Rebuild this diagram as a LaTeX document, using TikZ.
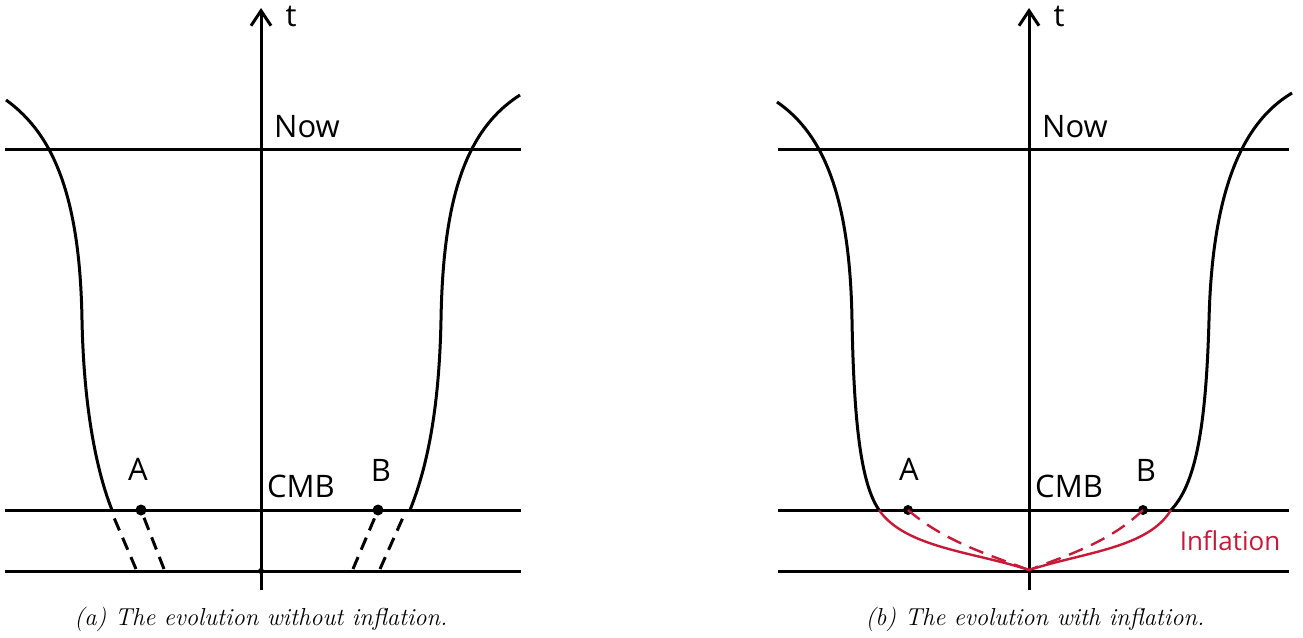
\documentclass[tikz,border=0pt]{standalone}
\usepackage{fontspec}
\newfontfamily\labfont{Open Sans}
\usetikzlibrary{arrows.meta}
\definecolor{infred}{RGB}{200,25,55}
\begin{document}
\begin{tikzpicture}[x=1pt,y=-1pt,
  ln/.style={line width=3pt},
  dsh/.style={line width=3pt, dash pattern=on 13pt off 8pt},
  rln/.style={line width=2.4pt, draw=infred},
  rdsh/.style={line width=2.4pt, draw=infred, dash pattern=on 15pt off 9pt},
  axarrow/.style={line width=3pt, -{Straight Barb[length=15pt,width=20pt,line width=3pt]}},
  lab/.style={font=\labfont\fontsize{31}{31}\selectfont, anchor=base, inner sep=0pt},
  capt/.style={font=\itshape\fontsize{24.5}{24.5}\selectfont, anchor=base, inner sep=0pt},
  dotA/.style={circle, fill=black, inner sep=0pt, minimum size=11pt},
  dotS/.style={circle, fill=black, inner sep=0pt, minimum size=6pt}]
\useasboundingbox (0,0) rectangle (1303,637);

%%%%% Panel (a)
\coordinate (aAxB) at (261,590);
\coordinate (aAxT) at (261,8);
\coordinate (aNowL) at (5,149);   \coordinate (aNowR) at (521,149);
\coordinate (aCmbL) at (5,510);   \coordinate (aCmbR) at (521,510);
\coordinate (aBotL) at (5,571);   \coordinate (aBotR) at (521,571);
\draw[ln] (aNowL) -- (aNowR);
\draw[ln] (aCmbL) -- (aCmbR);
\draw[ln] (aBotL) -- (aBotR);
\draw[axarrow] (aAxB) -- (aAxT);
\node[dotS] (aO) at (261,571) {};

\coordinate (aLt) at (6,100);  \coordinate (aLm) at (82,320);  \coordinate (aLb) at (112,510);
\coordinate (aRt) at (520,95); \coordinate (aRm) at (441,320); \coordinate (aRb) at (410,510);
\draw[ln] (aLt) .. controls (55,135) and (80,200) .. (aLm) .. controls (84,420) and (100,480) .. (aLb);
\draw[ln] (aRt) .. controls (465,130) and (443,200) .. (aRm) .. controls (439,420) and (424,475) .. (aRb);

\coordinate (aL1) at (112,513); \coordinate (aL1e) at (136,569);
\coordinate (aR1) at (405,513); \coordinate (aR1e) at (380,569);
\node[dotA] (A1) at (141,510) {};
\node[dotA] (B1) at (378,510) {};
\coordinate (aL2e) at (164,569);
\coordinate (aR2e) at (353,569);
\draw[dsh] (aL1e) -- (aL1);
\draw[dsh] (aL2e) -- (A1.center);
\draw[dsh] (aR1e) -- (aR1);
\draw[dsh] (aR2e) -- (B1.center);

\node[lab] (at) at (291,27) {t};
\node[lab] (anow) at (307,137) {Now};
\node[lab] (acmb) at (301,497) {CMB};
\node[lab] (aA) at (138,480) {A};
\node[lab] (aB) at (381,481) {B};
\node[capt] (acap) at (261,625) {(a) The evolution without inflation.};

%%%%% Panel (b)
\coordinate (bAxB) at (1029,590);
\coordinate (bAxT) at (1029,8);
\coordinate (bNowL) at (778,149);   \coordinate (bNowR) at (1289,149);
\coordinate (bCmbL) at (778,510);   \coordinate (bCmbR) at (1289,510);
\coordinate (bBotL) at (778,571);   \coordinate (bBotR) at (1289,571);
\draw[ln] (bNowL) -- (bNowR);
\draw[ln] (bCmbL) -- (bCmbR);
\draw[ln] (bBotL) -- (bBotR);
\draw[axarrow] (bAxB) -- (bAxT);

\coordinate (bLt) at (777,102);  \coordinate (bLm) at (852,320);  \coordinate (bL) at (879,510);
\coordinate (bRt) at (1292,93);  \coordinate (bRm) at (1209,320); \coordinate (bR) at (1171,510);
\draw[ln] (bLt) .. controls (825,135) and (850,200) .. (bLm) .. controls (854,430) and (862,485) .. (bL);
\draw[ln] (bRt) .. controls (1238,125) and (1212,200) .. (bRm) .. controls (1206,430) and (1195,485) .. (bR);

\coordinate (bO) at (1029,570);
\node[dotA, minimum size=10pt] (A2) at (908,510) {};
\node[dotA, minimum size=10pt] (B2) at (1143,510) {};
\draw[rln] (bL) .. controls (905,548) and (975,552) .. (bO);
\draw[rln] (bR) .. controls (1148,548) and (1085,552) .. (bO);
\draw[rdsh] (A2.center) .. controls (945,542) and (990,555) .. (bO);
\draw[rdsh] (B2.center) .. controls (1110,542) and (1068,555) .. (bO);

\node[lab] (bt) at (1059,27) {t};
\node[lab] (bnow) at (1075,137) {Now};
\node[lab] (bcmb) at (1069,497) {CMB};
\node[lab] (bA) at (909,480) {A};
\node[lab] (bB) at (1146,481) {B};
\node[lab, text=infred, font=\labfont\fontsize{26}{26}\selectfont] (binf) at (1230,550) {Inflation};
\node[capt] (bcap) at (1035,625) {(b) The evolution with inflation.};
\end{tikzpicture}
\end{document}
